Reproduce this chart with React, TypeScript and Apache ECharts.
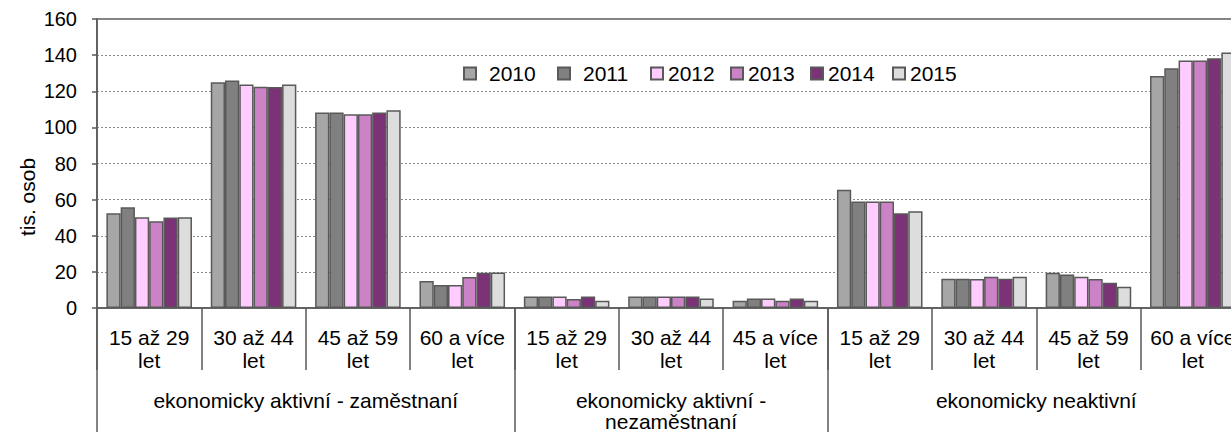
import React, { useEffect, useRef } from "react";
import * as echarts from "echarts";

const years = ["2010", "2011", "2012", "2013", "2014", "2015"];
const ageLabels = [
  "15 až 29\nlet", "30 až 44\nlet", "45 až 59\nlet", "60 a více\nlet",
  "15 až 29\nlet", "30 až 44\nlet", "45 a více\nlet",
  "15 až 29\nlet", "30 až 44\nlet", "45 až 59\nlet", "60 a více\nlet",
];
const groupLabels = [
  "ekonomicky aktivní - zaměstnaní",
  "ekonomicky aktivní -\nnezaměstnaní",
  "ekonomicky neaktivní",
];
const groupSizes = [4, 3, 4];

const v2010 = [52.5, 125.0, 108.3, 15.0, 6.3, 6.3, 4.0, 65.5, 16.2, 19.5, 128.4];
const v2011 = [55.8, 126.0, 108.3, 12.8, 6.3, 6.3, 5.2, 59.0, 16.2, 18.5, 132.8];
const v2012 = [50.2, 123.7, 107.2, 12.8, 6.3, 6.3, 5.2, 59.0, 16.0, 17.3, 137.0];
const v2013 = [48.0, 122.5, 107.2, 17.2, 5.0, 6.3, 4.0, 59.0, 17.3, 16.0, 137.0];
const v2014 = [50.1, 122.4, 108.3, 19.5, 6.3, 6.3, 5.2, 52.5, 16.2, 14.0, 138.3];
const v2015 = [50.2, 123.8, 109.5, 19.6, 4.0, 5.2, 4.0, 53.5, 17.3, 11.8, 141.4];
const seriesValues = [v2010, v2011, v2012, v2013, v2014, v2015];

const yMin = 0;
const yMax = 160;
const yStep = 20;
const yName = "tis. osob";

const colors = ["#A6A6A6", "#808080", "#FFCCFF", "#CC82C6", "#7B3276", "#DDDDDD"];
const FONT = "'Liberation Sans', Arial, sans-serif";
const EDGE = "#595959";

// second-level axis: points at half-category steps
const halfPoints: string[] = [];
const boundaryIdx: number[] = [0];
const centerIdx: number[] = [];
{
  const total = groupSizes.reduce((a, b) => a + b, 0) * 2;
  for (let i = 0; i <= total; i++) halfPoints.push("");
  let acc = 0;
  groupSizes.forEach((s, gi) => {
    const c = acc * 2 + s;
    centerIdx.push(c);
    halfPoints[c] = groupLabels[gi];
    acc += s;
    boundaryIdx.push(acc * 2);
  });
}

const legendLefts = [458, 552, 645, 725, 805, 887];
const legendTextPad = [8, 8, 0, 0, 0, 0];

export default function App() {
  const ref = useRef<HTMLDivElement>(null);
  useEffect(() => {
    if (!ref.current) return;
    const chart = echarts.init(ref.current, undefined, { renderer: "svg" });
    chart.setOption({
      animation: false,
      backgroundColor: "#ffffff",
      textStyle: { fontFamily: FONT },
      grid: {
        left: 97,
        top: 19,
        width: 1148,
        height: 290,
        show: true,
        borderColor: EDGE,
        borderWidth: 1.5,
        backgroundColor: "transparent",
      },
      legend: years.map((y, i) => ({
        data: [y],
        left: legendLefts[i],
        top: 58,
        itemWidth: 12,
        itemHeight: 12,
        icon: "rect",
        selectedMode: false,
        textStyle: {
          fontFamily: FONT,
          fontSize: 21,
          color: "#000",
          padding: [0, 0, 0, legendTextPad[i]],
        },
      })),
      xAxis: [
        {
          type: "category",
          data: ageLabels,
          position: "bottom",
          axisLine: { show: true, lineStyle: { color: EDGE, width: 1.5 } },
          axisTick: { show: true, interval: 0, length: 62, lineStyle: { color: EDGE, width: 1.5 } },
          axisLabel: {
            interval: 0,
            margin: 18,
            fontSize: 21,
            lineHeight: 23,
            color: "#000",
            fontFamily: FONT,
          },
          splitLine: { show: false },
        },
        {
          type: "category",
          data: halfPoints,
          position: "bottom",
          boundaryGap: false,
          axisLine: { show: false },
          axisTick: {
            show: true,
            length: 130,
            interval: (idx: number) => boundaryIdx.includes(idx),
            lineStyle: { color: EDGE, width: 1.5 },
          },
          axisLabel: {
            interval: (idx: number) => centerIdx.includes(idx),
            margin: 82,
            fontSize: 21,
            lineHeight: 21,
            color: "#000",
            fontFamily: FONT,
          },
          splitLine: { show: false },
        },
      ],
      yAxis: {
        type: "value",
        min: yMin,
        max: yMax,
        interval: yStep,
        axisLine: { show: true, lineStyle: { color: EDGE, width: 1.5 } },
        axisTick: { show: true, length: 5, lineStyle: { color: EDGE, width: 1.5 } },
        axisLabel: { margin: 20, fontSize: 20, color: "#000", fontFamily: FONT },
        splitLine: { show: true, lineStyle: { color: "#8c8c8c", type: [2, 2], width: 1 } },
      },
      graphic: [
        {
          type: "text",
          x: 27,
          y: 197,
          rotation: Math.PI / 2,
          style: {
            text: yName,
            fontSize: 21,
            fontFamily: FONT,
            fill: "#000",
            align: "center",
            verticalAlign: "middle",
          },
        },
      ],
      series: years.map((y, i) => ({
        name: y,
        type: "bar",
        xAxisIndex: 0,
        data: seriesValues[i],
        barGap: "0%",
        barCategoryGap: "18%",
        itemStyle: { color: colors[i], borderColor: EDGE, borderWidth: 1.5 },
      })),
    });
    return () => chart.dispose();
  }, []);
  return (
    <div style={{ position: "fixed", left: 0, top: 0, width: 1231, height: 432, overflow: "hidden", background: "#fff" }}>
      <div ref={ref} style={{ width: 1260, height: 432 }} />
    </div>
  );
}
